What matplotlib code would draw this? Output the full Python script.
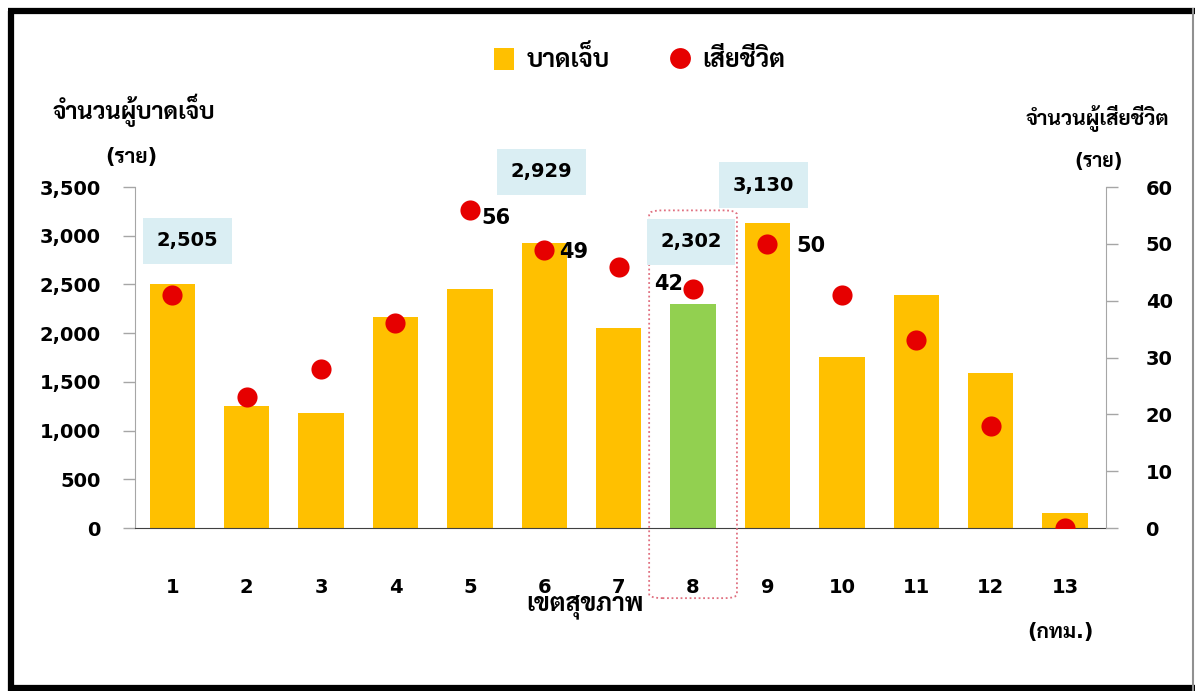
import matplotlib
matplotlib.use('Agg')
import matplotlib.pyplot as plt
from matplotlib.patches import Patch, FancyBboxPatch
from matplotlib.lines import Line2D

plt.rcParams['font.family'] = ['DejaVu Sans', 'Sarabun', 'Noto Sans Thai', 'Bai Jamjuree']

# data
regions = list(range(1, 14))
injured = [2505, 1250, 1180, 2170, 2450, 2929, 2050, 2302, 3130, 1760, 2395, 1590, 155]
deaths = [41, 23, 28, 36, 56, 49, 46, 42, 50, 41, 33, 18, 0]
highlight = 8

inj_label = 'บาดเจ็บ'
dead_label = 'เสียชีวิต'
left_title = 'จำนวนผู้บาดเจ็บ'
right_title = 'จำนวนผู้เสียชีวิต'
unit = '(ราย)'
x_title = 'เขตสุขภาพ'
bkk = '(กทม.)'

# which bars / dots get a label, and offsets (px) of the label
box_labels = {1: (15, 43), 6: (-3, 71), 8: (-2, 62), 9: (-4, 38)}
dot_labels = {5: (12, -8, 'left'), 6: (15, -2, 'left'), 8: (-10, 5, 'right'), 9: (29, -2, 'left')}

gold = '#FFC000'
green = '#92D050'
red = '#E60000'
boxblue = '#DAEEF3'

W, H = 1195, 691
fig = plt.figure(figsize=(W / 100, H / 100), dpi=100)
ax1 = fig.add_axes([135 / W, 1 - 528 / H, (1106 - 135) / W, (528 - 187) / H])
ax2 = ax1.twinx()

colors = [green if r == highlight else gold for r in regions]
ax1.bar(regions, injured, width=0.61, color=colors, zorder=2)
ax2.scatter(regions, deaths, s=210, color=red, zorder=3, linewidths=0)

ax1.set_xlim(0.5, 13.55)
ax1.set_ylim(0, 3500)
ax2.set_ylim(0, 60)
ax1.set_yticks(range(0, 3501, 500))
ax1.set_yticklabels(['{:,}'.format(v) for v in range(0, 3501, 500)])
ax2.set_yticks(range(0, 61, 10))
ax1.set_xticks(regions)

for a in (ax1, ax2):
    a.spines['top'].set_visible(False)
ax1.spines['right'].set_visible(False)
ax2.spines['left'].set_visible(False)
ax2.spines['bottom'].set_visible(False)
ax1.spines['left'].set_color('#A6A6A6')
ax2.spines['right'].set_color('#A6A6A6')
ax1.spines['bottom'].set_color('#404040')
ax1.tick_params(axis='y', length=8.5, width=1, color='#A6A6A6', pad=16, labelsize=14)
ax2.tick_params(axis='y', length=8.5, width=1, color='#A6A6A6', pad=20, labelsize=14)
ax1.tick_params(axis='x', length=0, pad=36, labelsize=14)
for lab in ax1.get_xticklabels() + ax1.get_yticklabels() + ax2.get_yticklabels():
    lab.set_fontweight('bold')

# value boxes on top of some bars
for r, (dx, dy) in box_labels.items():
    v = injured[r - 1]
    ax2.annotate('{:,}'.format(v), xy=(r, v), xycoords=ax1.transData,
                 xytext=(dx * 0.72, dy * 0.72), textcoords='offset points',
                 ha='center', va='center', fontsize=14, fontweight='bold', zorder=4,
                 bbox=dict(boxstyle='square,pad=0.7', fc=boxblue, ec='none'))

# labels next to some dots
for r, (dx, dy, ha) in dot_labels.items():
    ax2.annotate(str(deaths[r - 1]), xy=(r, deaths[r - 1]),
                 xytext=(dx * 0.72, dy * 0.72), textcoords='offset points',
                 ha=ha, va='center', fontsize=15, fontweight='bold', zorder=4)

# dotted frame around the highlighted region
hl = FancyBboxPatch((highlight - 0.59, -720), 1.18, 3980,
                    boxstyle='round,pad=0,rounding_size=0.18', mutation_aspect=3500 / 13 * 0.9,
                    fill=False, ec='#E07080', ls=(0, (1, 1.5)), lw=1.3,
                    transform=ax1.transData, clip_on=False, zorder=5)
ax1.add_patch(hl)

# axis titles
fig.text(134 / W, 1 - 110 / H, left_title, ha='center', va='center', fontsize=17, fontweight='bold')
fig.text(131 / W, 1 - 157 / H, unit, ha='center', va='center', fontsize=15, fontweight='bold')
fig.text(1097 / W, 1 - 118 / H, right_title, ha='center', va='center', fontsize=15, fontweight='bold')
fig.text(1099 / W, 1 - 161 / H, unit, ha='center', va='center', fontsize=14, fontweight='bold')
fig.text(585 / W, 1 - 607 / H, x_title, ha='center', va='center', fontsize=18, fontweight='bold')
fig.text(1060 / W, 1 - 632 / H, bkk, ha='center', va='center', fontsize=15, fontweight='bold')

# legend
handles = [Patch(facecolor=gold, edgecolor='none'),
           Line2D([], [], ls='none', marker='o', ms=15, mfc=red, mec='none')]
fig.legend(handles, [inj_label, dead_label], loc='center', ncol=2,
           bbox_to_anchor=(640 / W, 1 - 59 / H), frameon=False,
           prop=dict(size=18, weight='bold'), handlelength=0.8, handleheight=1.0,
           handletextpad=0.5, columnspacing=2.4)

# outer frame of the picture
fig.add_artist(Line2D([11 / W, 11 / W], [0, 1 - 11 / H], color='black', lw=4.5, solid_capstyle='butt'))
fig.add_artist(Line2D([8 / W, 1], [1 - 11 / H, 1 - 11 / H], color='black', lw=4.5, solid_capstyle='butt'))
fig.add_artist(Line2D([8 / W, 1], [3 / H, 3 / H], color='black', lw=4.5, solid_capstyle='butt'))
fig.add_artist(Line2D([1193 / W, 1193 / W], [0, 1 - 8 / H], color='#909090', lw=1.5, solid_capstyle='butt'))

fig.savefig('out.png', dpi=100)
